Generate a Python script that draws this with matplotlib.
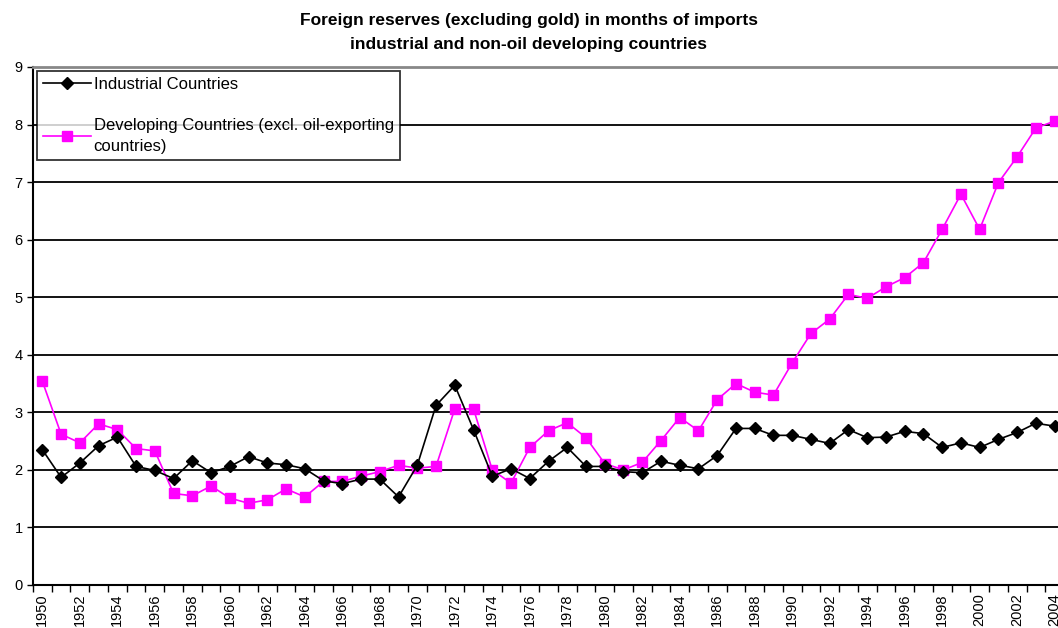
# Foreign reserves (excl. gold) in months of imports, 1950-2004
import matplotlib.pyplot as plt
import numpy as np

plt.rcParams['font.family'] = ['Liberation Sans', 'DejaVu Sans']

years = list(range(1950, 2005))

industrial = [2.35, 1.87, 2.12, 2.42, 2.57, 2.06, 1.99, 1.85, 2.16, 1.95,
              2.06, 2.23, 2.12, 2.09, 2.02, 1.81, 1.76, 1.84, 1.84, 1.53,
              2.08, 3.12, 3.47, 2.70, 1.89, 2.02, 1.85, 2.15, 2.39, 2.06,
              2.06, 1.97, 1.95, 2.15, 2.08, 2.02, 2.25, 2.72, 2.72, 2.60,
              2.60, 2.53, 2.46, 2.70, 2.56, 2.57, 2.67, 2.63, 2.39, 2.47,
              2.39, 2.53, 2.65, 2.81, 2.76]

developing = [3.54, 2.62, 2.47, 2.80, 2.70, 2.37, 2.33, 1.59, 1.55, 1.72,
              1.51, 1.42, 1.48, 1.67, 1.53, 1.80, 1.80, 1.89, 1.97, 2.08,
              2.03, 2.06, 3.06, 3.06, 2.00, 1.77, 2.39, 2.68, 2.82, 2.56,
              2.11, 2.00, 2.13, 2.51, 2.91, 2.68, 3.22, 3.50, 3.35, 3.30,
              3.86, 4.37, 4.62, 5.05, 4.98, 5.18, 5.34, 5.60, 6.18, 6.79,
              6.18, 6.99, 7.44, 7.94, 8.06]

x = np.arange(len(years))

fig = plt.figure(figsize=(10.58, 6.28), dpi=100)
# plot area runs a little past the right edge, as in the original clipping
ax = fig.add_axes([33 / 1058, 43 / 628, 1031 / 1058, 518 / 628])

for yv in range(1, 9):
    ax.axhline(yv, color='black', lw=1.3, zorder=1)

ax.plot(x, industrial, color='black', lw=1.2, marker='D', ms=6.5,
        label='Industrial Countries', zorder=3)
ax.plot(x, developing, color='#ff00ff', lw=1.2, marker='s', ms=6.5,
        label='Developing Countries (excl. oil-exporting\ncountries)', zorder=2)

ax.set_xlim(-0.5, len(years) - 0.5)
ax.set_ylim(0, 9)
ax.set_yticks(range(0, 10))
ax.tick_params(axis='y', labelsize=10.5, length=4, width=1, direction='out')

ax.set_xticks(np.arange(-0.5, len(years), 1))
ax.set_xticklabels([])
ax.set_xticks(x[::2], minor=True)
ax.set_xticklabels([str(y) for y in years[::2]], minor=True, rotation=90,
                   fontsize=10.5)
ax.tick_params(axis='x', which='major', length=5, width=1, direction='out')
ax.tick_params(axis='x', which='minor', length=0, pad=6)

ax.spines['top'].set_color('#888888')
ax.spines['top'].set_linewidth(2)
ax.spines['right'].set_visible(False)
ax.spines['left'].set_linewidth(1.5)
ax.spines['bottom'].set_linewidth(1.5)

leg = ax.legend(loc='upper left', bbox_to_anchor=(4 / 1031, 1 - 4 / 518),
                frameon=True, fancybox=False, edgecolor='black', fontsize=12,
                handlelength=2.9, handletextpad=0.15, labelspacing=1.55,
                borderpad=0.35, borderaxespad=0)
leg.get_frame().set_linewidth(1.3)
for t in leg.get_texts():
    t.set_linespacing(1.55)

fig.text(0.5, 1 - 20 / 628, 'Foreign reserves (excluding gold) in months of imports',
         ha='center', va='center', fontsize=12.5, fontweight='bold')
fig.text(0.5, 1 - 44 / 628, 'industrial and non-oil developing countries',
         ha='center', va='center', fontsize=12.5, fontweight='bold')

fig.savefig('out.png', dpi=100)
